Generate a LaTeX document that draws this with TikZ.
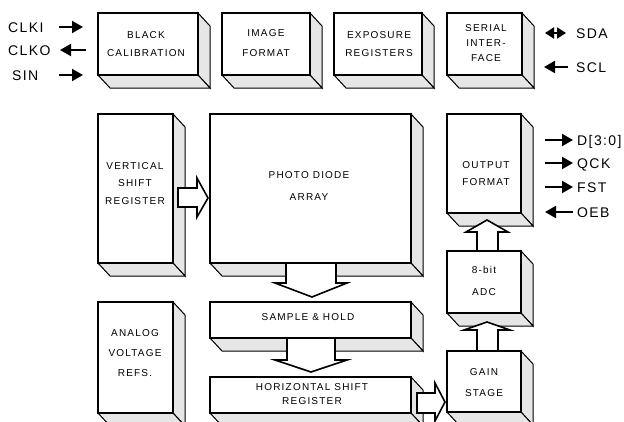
\documentclass[tikz,border=0pt]{standalone}
\usepackage{fontspec}
\setmainfont{Liberation Sans}
\newfontfamily\boxfont[LetterSpace=12]{Liberation Sans}
\newfontfamily\sigfont[LetterSpace=10]{Liberation Sans}
\usetikzlibrary{arrows.meta}
\definecolor{sidegray}{RGB}{230,230,230}
\tikzset{
  sideface/.style={fill=sidegray, draw=black, line width=1pt, line join=miter},
  frontbox/.style={draw=black, fill=white, line width=1.7pt, inner sep=0pt, outer sep=0pt},
  lbl/.style={inner sep=0pt, align=center, font=\boxfont\fontsize{10}{#1}\selectfont},
  lbl/.default=18,
  sigtxt/.style={inner sep=0pt, anchor=base west, font=\sigfont\fontsize{14}{16}\selectfont},
  sig/.style={line width=2pt, -{Triangle[length=11pt,width=12pt]}},
  dsig/.style={line width=2pt, {Triangle[length=9pt,width=11pt]}-{Triangle[length=9pt,width=11pt]}},
  blockarrow/.style={draw=black, fill=white, line width=1.6pt, line join=miter},
}
% name, x1, y1, x2, y2
\newcommand{\tdbox}[5]{%
  \filldraw[sideface] (#4,#3) -- ++(12,13) -- (#4+12,#5+13) -- (#4,#5) -- cycle;
  \filldraw[sideface] (#2,#5) -- (#2+12,#5+13) -- (#4+12,#5+13) -- (#4,#5) -- cycle;
  \node[frontbox, minimum width={(#4-#2)*1pt}, minimum height={(#5-#3)*1pt}] (#1) at ({(#2+#4)/2},{(#3+#5)/2}) {};
}
\begin{document}
\begin{tikzpicture}[x=1pt,y=-1pt]
\useasboundingbox (0,0) rectangle (624,421);
\fill[white] (0,0) rectangle (624,421);
\clip (0,0) rectangle (624,421);

% boxes
\tdbox{black}{98}{13}{198}{75}
\tdbox{image}{222}{13}{310}{75}
\tdbox{expo}{334}{13}{422}{75}
\tdbox{serial}{447}{13}{522}{75}
\tdbox{vsr}{98}{114}{173}{263}
\tdbox{pda}{210}{114}{411}{263}
\tdbox{output}{447}{114}{521}{213}
\tdbox{adc}{447}{251}{521}{313}
\tdbox{gain}{447}{351}{521}{412}
\tdbox{analog}{98}{302}{173}{413}
\tdbox{sh}{210}{302}{411}{338}
\tdbox{hsr}{210}{377}{411}{413}

% labels
\node[lbl=18] (blackT) at (146,44) {BLACK\\CALIBRATION};
\node[lbl=20] (imageT) at (266,43) {IMAGE\\FORMAT};
\node[lbl=18] (expoT) at (379,44) {EXPOSURE\\REGISTERS};
\node[lbl=15] (serialT) at (486,43) {SERIAL\\INTER-\\FACE};
\node[lbl=17.5] (vsrT) at (135,183.5) {VERTICAL\\SHIFT\\REGISTER};
\node[lbl=22] (pdaT) at (309,186) {PHOTO DIODE\\ARRAY};
\node[lbl=17] (outputT) at (486,173.5) {OUTPUT\\FORMAT};
\node[lbl=22] (adcT) at (484,281) {8-bit\\ADC};
\node[lbl=21] (gainT) at (484,382.5) {GAIN\\STAGE};
\node[lbl=20] (analogT) at (135,353) {ANALOG\\VOLTAGE\\REFS.};
\node[lbl] (shT) at (308,317) {SAMPLE \& HOLD};
\node[lbl=14] (hsrT) at (312,394) {HORIZONTAL SHIFT\\REGISTER};

% block arrows
\draw[blockarrow] (178,188) -- (197,188) -- (197,178) -- (208,198) -- (197,217) -- (197,207) -- (178,207) -- cycle;
\draw[blockarrow] (286,263) -- (286,283) -- (275,283) -- (312,297) -- (347,283) -- (336,283) -- (336,263) -- cycle;
\draw[blockarrow] (287,338) -- (287,360) -- (275,360) -- (311,372) -- (347,360) -- (335,360) -- (335,338) -- cycle;
\draw[blockarrow] (417,393) -- (435,393) -- (435,383) -- (445,402) -- (435,421) -- (435,413) -- (417,413) -- cycle;
\draw[blockarrow] (477,351) -- (477,330) -- (464,330) -- (487,322) -- (510,330) -- (498,330) -- (498,351) -- cycle;
\draw[blockarrow] (477,251) -- (477,232) -- (466,232) -- (487,220) -- (508,232) -- (498,232) -- (498,251) -- cycle;

% signal labels
\node[sigtxt] (clki) at (8,32) {CLKI};
\node[sigtxt] (clko) at (8,55) {CLKO};
\node[sigtxt] (sin) at (12,80) {SIN};
\node[sigtxt] (sda) at (576,38.5) {SDA};
\node[sigtxt] (scl) at (576,72) {SCL};
\node[sigtxt] (dout) at (577,145) {D[3:0]};
\node[sigtxt] (qck) at (577,168) {QCK};
\node[sigtxt] (fst) at (577,192) {FST};
\node[sigtxt] (oeb) at (577,217) {OEB};

% signal arrow endpoints
\coordinate (clkiA) at (59,27);  \coordinate (clkiB) at (83,27);
\coordinate (clkoA) at (86,50);  \coordinate (clkoB) at (60,50);
\coordinate (sinA) at (59,75);   \coordinate (sinB) at (83,75);
\coordinate (sdaA) at (545,33);  \coordinate (sdaB) at (566,33);
\coordinate (sclA) at (568,67);  \coordinate (sclB) at (544,67);
\coordinate (doutA) at (545,140); \coordinate (doutB) at (573,140);
\coordinate (qckA) at (545,163);  \coordinate (qckB) at (573,163);
\coordinate (fstA) at (545,187);  \coordinate (fstB) at (573,187);
\coordinate (oebA) at (573,212);  \coordinate (oebB) at (545,212);

\draw[sig] (clkiA) -- (clkiB);
\draw[sig] (clkoA) -- (clkoB);
\draw[sig] (sinA) -- (sinB);
\draw[dsig] (sdaA) -- (sdaB);
\draw[sig] (sclA) -- (sclB);
\draw[sig] (doutA) -- (doutB);
\draw[sig] (qckA) -- (qckB);
\draw[sig] (fstA) -- (fstB);
\draw[sig] (oebA) -- (oebB);
\end{tikzpicture}
\end{document}
